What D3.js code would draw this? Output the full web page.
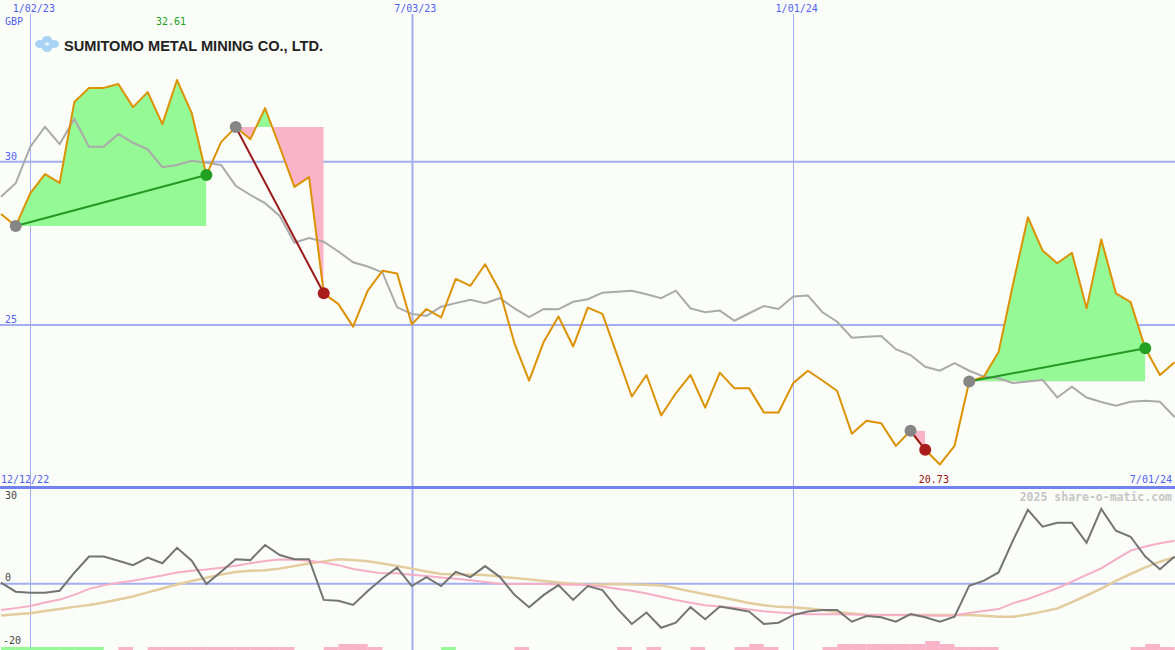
<!DOCTYPE html>
<html><head><meta charset="utf-8">
<script src="https://cdn.jsdelivr.net/npm/d3@7"></script>
<style>
html,body{margin:0;padding:0;background:#fbfdf8;}
svg{display:block;}
text{font-family:"DejaVu Sans Mono",monospace;}
text.title{font-family:"Liberation Sans",Arial,sans-serif;}
</style></head>
<body><svg id="c" width="1175" height="650"></svg>
<script>
// ---------- DATA ----------
const titleText = "SUMITOMO METAL MINING CO., LTD.";
const currency = "GBP";
const startLabel = "12/12/22";
const endLabel = "7/01/24";
const maxLabel = "32.61";
const minLabel = "20.73";
const copyright = "2025 share-o-matic.com";
const firstWeek = "2022-12-19";
const tickDates = ["2023-01-02","2023-07-03","2024-01-01"];
const priceTicks = [30, 25];
const momTicks = [30, 0, -20];

// weekly closing price (GBP)
const close = [28.40,28.03,29.04,29.62,29.35,31.83,32.26,32.26,32.38,31.67,
  32.13,31.15,32.50,31.49,29.59,30.60,31.06,30.69,31.64,30.45,
  29.23,29.53,25.97,25.64,24.95,26.05,26.66,26.58,25.02,25.49,
  25.23,26.41,26.20,26.86,26.04,24.44,23.30,24.49,25.26,24.34,
  25.53,25.34,24.08,22.81,23.47,22.23,22.91,23.47,22.47,23.54,
  23.06,23.06,22.32,22.32,23.22,23.60,23.30,22.98,21.67,22.07,
  21.99,21.30,21.76,21.18,20.73,21.30,23.27,23.42,24.17,26.28,
  28.30,27.28,26.89,27.21,25.51,27.62,25.97,25.70,24.29,23.47,23.86];

// comparison index, rebased to the price
const index = [28.93,29.34,30.46,31.07,30.54,31.31,30.46,30.46,30.85,30.58,
  30.38,29.83,29.90,30.03,29.97,29.90,29.26,28.98,28.73,28.34,
  27.52,27.66,27.55,27.25,26.92,26.79,26.61,25.54,25.34,25.28,
  25.56,25.67,25.77,25.67,25.82,25.51,25.24,25.49,25.48,25.71,
  25.79,25.99,26.02,26.05,25.94,25.82,26.05,25.51,25.39,25.44,
  25.13,25.36,25.58,25.49,25.87,25.90,25.39,25.10,24.61,24.64,
  24.66,24.26,24.08,23.72,23.60,23.83,23.60,23.42,23.37,23.22,
  23.27,23.32,22.78,23.11,22.78,22.64,22.53,22.65,22.68,22.65,22.18];

// momentum (lower panel)
const momentum = [0.4,-2.5,-2.8,-2.8,-2.2,3.5,8.6,8.6,7.3,5.9,
  8.3,6.5,11.4,7.3,-0.1,3.8,7.8,7.5,12.3,9.1,
  7.8,7.8,-5.1,-5.4,-6.7,-2.3,1.7,5.1,-0.7,2.1,
  -0.7,3.8,2.1,5.6,2.2,-3.5,-7.4,-3.5,-0.4,-5.1,
  -0.7,-2.0,-7.8,-12.7,-9.1,-13.9,-12.3,-7.4,-11.2,-7.2,
  -8.0,-8.8,-12.7,-12.3,-9.9,-8.8,-8.3,-8.3,-12.0,-10.2,
  -10.6,-12.0,-9.6,-10.6,-12.0,-10.4,-0.6,1.0,3.6,13.9,
  23.4,18.1,19.3,19.3,13.0,23.7,16.8,14.9,8.6,4.6,8.6];

const maFast = [-8.3,-7.7,-7.0,-5.9,-5.0,-3.5,-1.6,-0.5,0.3,1.0,
  1.8,2.6,3.6,4.1,4.5,5.1,5.7,6.5,7.2,7.7,
  7.6,7.3,6.7,5.9,4.7,4.0,3.3,3.3,2.9,2.5,
  2.0,1.6,1.1,0.6,0.0,-0.1,-0.1,-0.1,-0.2,-0.3,
  -0.4,-0.9,-1.6,-2.2,-3.1,-4.1,-5.1,-6.0,-6.8,-7.2,
  -7.6,-8.1,-8.7,-9.1,-9.4,-9.6,-9.6,-9.6,-9.7,-9.9,
  -9.9,-9.9,-9.9,-10.0,-10.1,-10.0,-9.2,-8.6,-8.0,-6.1,
  -4.8,-3.1,-1.4,0.7,2.8,4.9,7.7,10.5,11.8,12.8,13.6];

const maSlow = [-10.0,-9.6,-9.3,-8.6,-8.0,-7.3,-6.7,-5.9,-5.0,-4.0,
  -2.7,-1.5,-0.2,0.9,1.9,2.9,3.7,4.1,4.3,4.8,
  5.6,6.4,7.1,7.8,7.5,7.1,6.4,5.6,4.8,3.9,
  3.1,3.0,2.9,2.8,2.3,1.8,1.4,0.9,0.4,0.0,
  -0.3,-0.2,-0.1,-0.2,-0.3,-0.5,-1.4,-2.4,-3.3,-4.2,
  -5.1,-6.1,-6.8,-7.3,-7.4,-7.8,-8.3,-8.9,-9.4,-9.8,
  -9.9,-9.9,-9.9,-9.9,-9.9,-9.9,-9.9,-10.1,-10.4,-10.4,
  -9.7,-8.8,-7.8,-5.8,-3.7,-1.5,0.9,3.1,5.2,7.0,8.4];

// weekly signal strength per interval (+ buy / - sell)
const signal = [1,1,1,1,1,1,1,0,-1,0,
  -1,-1,-1,-1,-1,-1,-1,-1,-1,-1,
  0,0,-1,-2,-2,-1,0,0,0,0,
  1,0,0,0,0,-1,0,0,0,0,
  0,0,-1,0,-1,0,0,-1,0,0,
  -1,-2,-1,0,0,0,-1,-2,-2,-2,
  -2,-2,-2,-3,-2,-1,-1,-1,0,0,
  0,0,0,0,0,0,0,-1,-2,-1];

// trades: entry week index, exit week index
const tradeEntry = [1, 16, 62, 66];
const tradeExit  = [14, 22, 63, 78];

// ---------- CHART ----------
const W = 1175, H = 650;
const svg = d3.select("#c");
const bg = "#fbfdf8";
svg.append("rect").attr("width",W).attr("height",H).attr("fill",bg);

const t0 = new Date(firstWeek + "T00:00:00Z");
const dates = close.map((_, i) => d3.utcDay.offset(t0, 7 * i));
const x = d3.scaleUtc().domain([dates[0], dates[dates.length - 1]]).range([1, 1174.6]);
const y = d3.scaleLinear().domain([25, 30]).range([325, 161.7]);
const ym = d3.scaleLinear().domain([-20, 30]).range([647, 489]);
const parse = d3.utcParse("%Y-%m-%d");
const fmt = d3.utcFormat("%-m/%d/%y");
const ticks = tickDates.map(parse);

const gridCol = "#a3aff2";
const blue = "#4f5ff0";

// vertical grid lines
svg.append("g").selectAll("line").data(ticks).join("line")
  .attr("x1", d => Math.round(x(d)) + 0.5).attr("x2", d => Math.round(x(d)) + 0.5)
  .attr("y1", 14).attr("y2", H)
  .attr("stroke", gridCol)
  .attr("stroke-width", d => d.getUTCMonth() === 6 ? 2 : 1);

// price horizontal grid
svg.append("g").selectAll("line").data(priceTicks).join("line")
  .attr("x1", 0).attr("x2", W)
  .attr("y1", d => y(d)).attr("y2", d => y(d))
  .attr("stroke", gridCol).attr("stroke-width", 2);
svg.append("g").selectAll("text").data(priceTicks).join("text")
  .attr("x", 5).attr("y", d => y(d) - 2)
  .attr("font-size", 10).attr("fill", blue).text(d => d);

// top date axis
const ax = svg.append("g").attr("transform", "translate(3,12)")
  .call(d3.axisTop(x).tickValues(ticks).tickFormat(fmt).tickSize(0).tickPadding(0));
ax.select(".domain").remove();
ax.selectAll("text").attr("font-size", 10).attr("fill", blue).attr("dy", 0);

svg.append("text").attr("x", 5).attr("y", 25).attr("font-size", 10).attr("fill", blue).text(currency);

// trade fills
const defs = svg.append("defs");
tradeEntry.forEach((s, k) => {
  const e = tradeExit[k];
  const lvl = y(close[s]);
  const seg = d3.range(s, e + 1);
  const area = d3.area().x(i => x(dates[i])).y0(lvl).y1(i => y(close[i]));
  const cu = "cu" + k, cd = "cd" + k;
  defs.append("clipPath").attr("id", cu).append("rect")
    .attr("x", x(dates[s])).attr("width", x(dates[e]) - x(dates[s])).attr("y", 0).attr("height", lvl);
  defs.append("clipPath").attr("id", cd).append("rect")
    .attr("x", x(dates[s])).attr("width", x(dates[e]) - x(dates[s])).attr("y", lvl).attr("height", 487 - lvl);
  svg.append("path").datum(seg).attr("d", area).attr("fill", "#95f995").attr("clip-path", `url(#${cu})`);
  svg.append("path").datum(seg).attr("d", area).attr("fill", "#f9b4c9").attr("clip-path", `url(#${cd})`);
});

// index line
const lineP = arr => d3.line().x((d, i) => x(dates[i])).y(d => y(d))(arr);
svg.append("path").attr("d", lineP(index)).attr("fill", "none").attr("stroke", "#aaaaaa").attr("stroke-width", 2);
// price line
svg.append("path").attr("d", lineP(close)).attr("fill", "none").attr("stroke", "#dc9200").attr("stroke-width", 2)
  .attr("stroke-linejoin", "round");

// trade lines + dots
tradeEntry.forEach((s, k) => {
  const e = tradeExit[k];
  const win = close[e] > close[s];
  svg.append("line").attr("x1", x(dates[s])).attr("y1", y(close[s]))
    .attr("x2", x(dates[e])).attr("y2", y(close[e]))
    .attr("stroke", win ? "#229a22" : "#991a1a").attr("stroke-width", 2);
  svg.append("circle").attr("cx", x(dates[s])).attr("cy", y(close[s])).attr("r", 6).attr("fill", "#868686");
  svg.append("circle").attr("cx", x(dates[e])).attr("cy", y(close[e])).attr("r", 6)
    .attr("fill", win ? "#22a022" : "#a81c1c");
});

// max / min labels
const iMax = d3.maxIndex(close), iMin = d3.minIndex(close);
svg.append("text").attr("x", x(dates[iMax]) - 6).attr("y", 25).attr("text-anchor", "middle")
  .attr("font-size", 10).attr("fill", "#1e9e1e").text(maxLabel);
svg.append("text").attr("x", x(dates[iMin]) - 6).attr("y", 483).attr("text-anchor", "middle")
  .attr("font-size", 10).attr("fill", "#9a1010").text(minLabel);
svg.append("text").attr("x", 1).attr("y", 483).attr("font-size", 10).attr("fill", blue).text(startLabel);
svg.append("text").attr("x", 1172).attr("y", 483).attr("text-anchor", "end").attr("font-size", 10).attr("fill", blue).text(endLabel);

// logo + title
const logo = svg.append("g").attr("transform", "translate(47,44)").attr("fill", "#a9d3f5");
[[-7,0],[7,0],[0,-4],[0,4]].forEach(p => logo.append("ellipse").attr("cx", p[0]).attr("cy", p[1]).attr("rx", 5).attr("ry", 4));
logo.append("path").attr("d", "M-11,0 L0,-7 L11,0 L0,7 Z");
logo.append("path").attr("d", "M-3,0 L0,-2 L3,0 L0,2 Z").attr("fill", "#e8f4fc");
svg.append("text").attr("class", "title").attr("x", 64).attr("y", 50.5)
  .attr("font-weight", "bold")
  .attr("font-size", 15).attr("fill", "#222").attr("textLength", 259).attr("lengthAdjust", "spacingAndGlyphs")
  .text(titleText);

// panel separator
svg.append("line").attr("x1", 0).attr("x2", W).attr("y1", 487.5).attr("y2", 487.5)
  .attr("stroke", "#7282f0").attr("stroke-width", 3);

// lower panel
svg.append("line").attr("x1", 0).attr("x2", W).attr("y1", ym(0)).attr("y2", ym(0))
  .attr("stroke", gridCol).attr("stroke-width", 2);
svg.append("g").selectAll("text").data(momTicks).join("text")
  .attr("x", d => d < 0 ? 3 : 5)
  .attr("y", d => Math.min(Math.max(ym(d) - 3, 499), 646))
  .attr("font-size", 10).attr("fill", "#444").text(d => d);
svg.append("text").attr("x", 1172).attr("y", 501).attr("text-anchor", "end")
  .attr("font-size", 11.5).attr("font-weight", "bold").attr("fill", "#c6c6c6").text(copyright);

const lineM = arr => d3.line().x((d, i) => x(dates[i])).y(d => ym(d))(arr);
svg.append("path").attr("d", lineM(maSlow)).attr("fill", "none").attr("stroke", "#e3cc9e").attr("stroke-width", 2.5);
svg.append("path").attr("d", lineM(maFast)).attr("fill", "none").attr("stroke", "#f6aec6").attr("stroke-width", 2);
svg.append("path").attr("d", lineM(momentum)).attr("fill", "none").attr("stroke", "#747474").attr("stroke-width", 2);

// signal bars
svg.append("g").selectAll("rect").data(signal).join("rect")
  .attr("x", (d, i) => x(dates[i])).attr("width", (d, i) => x(dates[i + 1]) - x(dates[i]))
  .attr("y", d => H - 3 * Math.abs(d)).attr("height", d => 3 * Math.abs(d))
  .attr("fill", d => d > 0 ? "#95f995" : "#f9b4c9");
</script></body></html>
